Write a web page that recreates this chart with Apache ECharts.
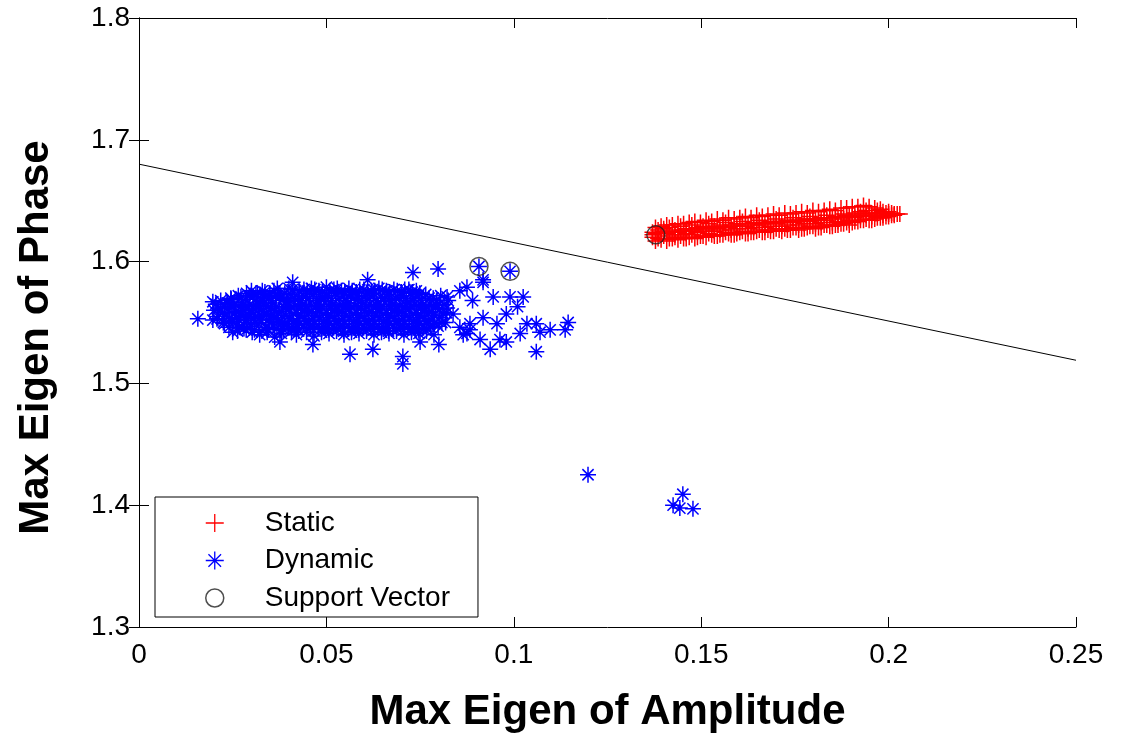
<!DOCTYPE html>
<html>
<head>
<meta charset="utf-8">
<script src="https://cdn.jsdelivr.net/npm/echarts@6/dist/echarts.min.js"></script>
<style>html,body{margin:0;padding:0;background:#fff;}#chart{width:1130px;height:738px;}</style>
</head>
<body>
<div id="chart"></div>
<script>
const xTicks = [0, 0.05, 0.1, 0.15, 0.2, 0.25];
const yTicks = [1.3, 1.4, 1.5, 1.6, 1.7, 1.8];
const seriesNames = ['Static', 'Dynamic', 'Support Vector'];

const staticPoints = [
[0.1370,1.6200],[0.1370,1.6240],[0.1370,1.6220],
[0.1385,1.6230],[0.1385,1.6190],[0.1385,1.6260],
[0.1400,1.6210],[0.1400,1.6270],[0.1400,1.6250],
[0.1415,1.6240],[0.1415,1.6190],[0.1415,1.6280],
[0.1430,1.6220],[0.1430,1.6260],[0.1430,1.6200],
[0.1445,1.6250],[0.1445,1.6210],[0.1445,1.6290],
[0.1460,1.6230],[0.1460,1.6270],[0.1460,1.6190],
[0.1475,1.6260],[0.1475,1.6220],[0.1475,1.6300],
[0.1490,1.6240],[0.1490,1.6200],[0.1490,1.6280],
[0.1505,1.6250],[0.1505,1.6290],[0.1505,1.6210],
[0.1520,1.6270],[0.1520,1.6230],[0.1520,1.6310],
[0.1535,1.6250],[0.1535,1.6210],[0.1535,1.6290],
[0.1550,1.6260],[0.1550,1.6300],[0.1550,1.6220],
[0.1565,1.6280],[0.1565,1.6240],[0.1565,1.6320],
[0.1580,1.6260],[0.1580,1.6220],[0.1580,1.6300],
[0.1595,1.6270],[0.1595,1.6310],[0.1595,1.6230],
[0.1610,1.6290],[0.1610,1.6250],[0.1610,1.6330],
[0.1625,1.6270],[0.1625,1.6230],[0.1625,1.6310],
[0.1640,1.6280],[0.1640,1.6320],[0.1640,1.6240],
[0.1655,1.6300],[0.1655,1.6260],[0.1655,1.6340],
[0.1670,1.6280],[0.1670,1.6240],[0.1670,1.6320],
[0.1685,1.6290],[0.1685,1.6330],[0.1685,1.6250],
[0.1700,1.6310],[0.1700,1.6270],[0.1700,1.6350],
[0.1715,1.6290],[0.1715,1.6250],[0.1715,1.6330],
[0.1730,1.6300],[0.1730,1.6340],[0.1730,1.6260],
[0.1745,1.6320],[0.1745,1.6280],[0.1745,1.6360],
[0.1760,1.6300],[0.1760,1.6260],[0.1760,1.6340],
[0.1775,1.6310],[0.1775,1.6350],[0.1775,1.6270],
[0.1790,1.6330],[0.1790,1.6290],[0.1790,1.6370],
[0.1805,1.6310],[0.1805,1.6270],[0.1805,1.6350],
[0.1820,1.6320],[0.1820,1.6360],[0.1820,1.6280],
[0.1835,1.6340],[0.1835,1.6300],[0.1835,1.6380],
[0.1850,1.6320],[0.1850,1.6290],[0.1850,1.6360],
[0.1865,1.6330],[0.1865,1.6370],[0.1865,1.6300],
[0.1880,1.6350],[0.1880,1.6310],[0.1880,1.6390],
[0.1895,1.6340],[0.1895,1.6300],[0.1895,1.6380],
[0.1910,1.6360],[0.1910,1.6330],[0.1910,1.6400],
[0.1925,1.6370],[0.1925,1.6340],[0.1925,1.6410],
[0.1940,1.6380],[0.1940,1.6350],[0.1940,1.6420],
[0.1955,1.6370],[0.1955,1.6400],[0.1955,1.6340],
[0.1970,1.6390],[0.1970,1.6360],[0.1970,1.6420],
[0.1985,1.6380],[0.1985,1.6410],[0.1985,1.6360],
[0.2000,1.6390],[0.2000,1.6370],[0.2000,1.6410],
[0.2015,1.6390],[0.2015,1.6380],
[0.2030,1.6390],
[0.1378,1.6170],[0.1378,1.6230],[0.1378,1.6280],
[0.1393,1.6180],[0.1393,1.6240],[0.1393,1.6290],
[0.1408,1.6170],[0.1408,1.6230],[0.1408,1.6300],
[0.1423,1.6190],[0.1423,1.6250],[0.1423,1.6300],
[0.1438,1.6180],[0.1438,1.6240],[0.1438,1.6310],
[0.1453,1.6190],[0.1453,1.6260],[0.1453,1.6310],
[0.1468,1.6200],[0.1468,1.6250],[0.1468,1.6320],
[0.1483,1.6190],[0.1483,1.6260],[0.1483,1.6330],
[0.1498,1.6210],[0.1498,1.6270],[0.1498,1.6320],
[0.1513,1.6200],[0.1513,1.6260],[0.1513,1.6340],
[0.1528,1.6220],[0.1528,1.6280],[0.1528,1.6330],
[0.1543,1.6210],[0.1543,1.6270],[0.1543,1.6350],
[0.1558,1.6220],[0.1558,1.6290],[0.1558,1.6340],
[0.1573,1.6230],[0.1573,1.6280],[0.1573,1.6360],
[0.1588,1.6220],[0.1588,1.6290],[0.1588,1.6350],
[0.1603,1.6240],[0.1603,1.6300],[0.1603,1.6360],
[0.1618,1.6230],[0.1618,1.6290],[0.1618,1.6370],
[0.1633,1.6240],[0.1633,1.6310],[0.1633,1.6360],
[0.1648,1.6250],[0.1648,1.6300],[0.1648,1.6380],
[0.1663,1.6240],[0.1663,1.6310],[0.1663,1.6370],
[0.1678,1.6260],[0.1678,1.6320],[0.1678,1.6380],
[0.1693,1.6250],[0.1693,1.6310],[0.1693,1.6390],
[0.1708,1.6260],[0.1708,1.6330],[0.1708,1.6380],
[0.1723,1.6270],[0.1723,1.6320],[0.1723,1.6400],
[0.1738,1.6260],[0.1738,1.6330],[0.1738,1.6390],
[0.1753,1.6280],[0.1753,1.6340],[0.1753,1.6400],
[0.1768,1.6270],[0.1768,1.6330],[0.1768,1.6410],
[0.1783,1.6280],[0.1783,1.6350],[0.1783,1.6400],
[0.1798,1.6290],[0.1798,1.6340],[0.1798,1.6420],
[0.1813,1.6280],[0.1813,1.6350],[0.1813,1.6410],
[0.1828,1.6300],[0.1828,1.6360],[0.1828,1.6420],
[0.1843,1.6290],[0.1843,1.6350],[0.1843,1.6430],
[0.1858,1.6300],[0.1858,1.6370],[0.1858,1.6420],
[0.1873,1.6310],[0.1873,1.6360],[0.1873,1.6440],
[0.1888,1.6320],[0.1888,1.6380],[0.1888,1.6440],
[0.1903,1.6320],[0.1903,1.6370],[0.1903,1.6450],
[0.1918,1.6330],[0.1918,1.6390],[0.1918,1.6450],
[0.1933,1.6340],[0.1933,1.6390],[0.1933,1.6460],
[0.1948,1.6340],[0.1948,1.6400],[0.1948,1.6450],
[0.1963,1.6350],[0.1963,1.6390],[0.1963,1.6440],
[0.1978,1.6360],[0.1978,1.6400],[0.1978,1.6430],
[0.1993,1.6370],[0.1993,1.6400],
[0.2008,1.6380],[0.2008,1.6400],
[0.2023,1.6390]
];

const dynamicPoints = [
[0.0157,1.5530],[0.0197,1.5520],[0.0197,1.5670],[0.0250,1.5420],
[0.0200,1.5600],[0.0205,1.5650],[0.0210,1.5550],
[0.0222,1.5580],[0.0218,1.5680],[0.0225,1.5500],[0.0228,1.5630],
[0.0238,1.5610],[0.0242,1.5530],[0.0245,1.5700],[0.0240,1.5460],[0.0236,1.5660],
[0.0258,1.5590],[0.0262,1.5480],[0.0265,1.5720],[0.0260,1.5540],[0.0256,1.5650],[0.0263,1.5430],
[0.0278,1.5600],[0.0282,1.5500],[0.0285,1.5690],[0.0280,1.5450],[0.0276,1.5640],[0.0284,1.5550],[0.0287,1.5740],
[0.0301,1.5580],[0.0298,1.5470],[0.0305,1.5710],[0.0302,1.5420],[0.0296,1.5650],[0.0307,1.5530],[0.0300,1.5760],
[0.0321,1.5610],[0.0318,1.5490],[0.0325,1.5680],[0.0322,1.5400],[0.0316,1.5730],[0.0327,1.5550],[0.0320,1.5640],
[0.0341,1.5570],[0.0338,1.5460],[0.0345,1.5700],[0.0342,1.5420],[0.0336,1.5750],[0.0347,1.5520],[0.0340,1.5630],
[0.0361,1.5600],[0.0358,1.5480],[0.0365,1.5720],[0.0362,1.5380],[0.0356,1.5660],[0.0367,1.5540],[0.0360,1.5760],
[0.0381,1.5590],[0.0378,1.5440],[0.0385,1.5690],[0.0382,1.5500],[0.0376,1.5740],[0.0387,1.5620],[0.0380,1.5410],
[0.0401,1.5610],[0.0398,1.5470],[0.0405,1.5730],[0.0402,1.5530],[0.0396,1.5670],[0.0407,1.5430],[0.0400,1.5780],
[0.0421,1.5580],[0.0418,1.5450],[0.0425,1.5700],[0.0422,1.5510],[0.0416,1.5640],[0.0427,1.5760],[0.0420,1.5400],
[0.0441,1.5600],[0.0438,1.5480],[0.0445,1.5710],[0.0442,1.5530],[0.0436,1.5650],[0.0447,1.5420],[0.0440,1.5770],
[0.0461,1.5590],[0.0458,1.5460],[0.0465,1.5730],[0.0462,1.5520],[0.0456,1.5660],[0.0467,1.5390],[0.0460,1.5780],
[0.0481,1.5610],[0.0478,1.5470],[0.0485,1.5700],[0.0482,1.5540],[0.0476,1.5640],[0.0487,1.5420],[0.0480,1.5760],
[0.0501,1.5580],[0.0498,1.5450],[0.0505,1.5720],[0.0502,1.5510],[0.0496,1.5670],[0.0507,1.5410],[0.0500,1.5790],
[0.0521,1.5600],[0.0518,1.5480],[0.0525,1.5740],[0.0522,1.5530],[0.0516,1.5650],[0.0527,1.5430],[0.0520,1.5770],
[0.0541,1.5590],[0.0538,1.5460],[0.0545,1.5710],[0.0542,1.5520],[0.0536,1.5640],[0.0547,1.5400],[0.0540,1.5760],
[0.0561,1.5610],[0.0558,1.5470],[0.0565,1.5730],[0.0562,1.5540],[0.0556,1.5660],[0.0567,1.5420],[0.0560,1.5780],
[0.0581,1.5580],[0.0578,1.5450],[0.0585,1.5700],[0.0582,1.5510],[0.0576,1.5640],[0.0587,1.5410],[0.0580,1.5750],
[0.0601,1.5600],[0.0598,1.5480],[0.0605,1.5720],[0.0602,1.5530],[0.0596,1.5660],[0.0607,1.5430],[0.0600,1.5770],
[0.0621,1.5590],[0.0618,1.5460],[0.0625,1.5740],[0.0622,1.5520],[0.0616,1.5650],[0.0627,1.5400],[0.0620,1.5760],
[0.0641,1.5610],[0.0638,1.5470],[0.0645,1.5710],[0.0642,1.5540],[0.0636,1.5640],[0.0647,1.5420],[0.0640,1.5780],
[0.0661,1.5580],[0.0658,1.5450],[0.0665,1.5730],[0.0662,1.5510],[0.0656,1.5670],[0.0667,1.5410],[0.0660,1.5760],
[0.0681,1.5600],[0.0678,1.5480],[0.0685,1.5700],[0.0682,1.5530],[0.0676,1.5650],[0.0687,1.5430],[0.0680,1.5770],
[0.0701,1.5590],[0.0698,1.5460],[0.0705,1.5720],[0.0702,1.5520],[0.0696,1.5640],[0.0707,1.5400],[0.0700,1.5750],
[0.0721,1.5610],[0.0718,1.5470],[0.0725,1.5740],[0.0722,1.5540],[0.0716,1.5660],[0.0727,1.5420],[0.0720,1.5770],
[0.0741,1.5580],[0.0738,1.5450],[0.0745,1.5710],[0.0742,1.5510],[0.0736,1.5650],[0.0747,1.5410],[0.0740,1.5760],
[0.0761,1.5600],[0.0758,1.5480],[0.0765,1.5730],[0.0762,1.5530],[0.0756,1.5640],[0.0767,1.5430],
[0.0781,1.5590],[0.0778,1.5460],[0.0785,1.5700],[0.0782,1.5520],[0.0776,1.5650],[0.0787,1.5400],
[0.0801,1.5610],[0.0798,1.5470],[0.0805,1.5720],[0.0802,1.5540],[0.0796,1.5640],
[0.0821,1.5580],[0.0818,1.5500],[0.0825,1.5680],[0.0822,1.5620],
[0.0212,1.5620],[0.0208,1.5530],
[0.0232,1.5570],[0.0228,1.5490],[0.0235,1.5660],
[0.0251,1.5630],[0.0248,1.5510],[0.0254,1.5580],[0.0246,1.5690],
[0.0271,1.5570],[0.0268,1.5460],[0.0274,1.5660],[0.0266,1.5520],[0.0272,1.5710],
[0.0291,1.5630],[0.0288,1.5520],[0.0294,1.5720],[0.0286,1.5440],[0.0292,1.5570],
[0.0311,1.5550],[0.0308,1.5440],[0.0314,1.5660],[0.0306,1.5610],[0.0312,1.5740],[0.0309,1.5500],
[0.0331,1.5590],[0.0328,1.5430],[0.0334,1.5710],[0.0326,1.5520],[0.0332,1.5660],[0.0329,1.5760],
[0.0351,1.5620],[0.0348,1.5500],[0.0354,1.5680],[0.0346,1.5440],[0.0352,1.5560],[0.0349,1.5740],
[0.0371,1.5570],[0.0368,1.5450],[0.0374,1.5700],[0.0366,1.5630],[0.0372,1.5510],[0.0369,1.5780],
[0.0391,1.5620],[0.0388,1.5490],[0.0394,1.5680],[0.0386,1.5440],[0.0392,1.5560],[0.0389,1.5740],
[0.0411,1.5570],[0.0408,1.5450],[0.0414,1.5700],[0.0406,1.5630],[0.0412,1.5510],[0.0409,1.5770],
[0.0431,1.5620],[0.0428,1.5490],[0.0434,1.5680],[0.0426,1.5430],[0.0432,1.5560],[0.0429,1.5750],
[0.0451,1.5570],[0.0448,1.5450],[0.0454,1.5700],[0.0446,1.5630],[0.0452,1.5510],[0.0449,1.5760],
[0.0471,1.5620],[0.0468,1.5490],[0.0474,1.5680],[0.0466,1.5440],[0.0472,1.5560],[0.0469,1.5770],
[0.0491,1.5570],[0.0488,1.5450],[0.0494,1.5700],[0.0486,1.5630],[0.0492,1.5510],[0.0489,1.5750],
[0.0511,1.5620],[0.0508,1.5490],[0.0514,1.5680],[0.0506,1.5440],[0.0512,1.5560],[0.0509,1.5760],
[0.0531,1.5570],[0.0528,1.5450],[0.0534,1.5700],[0.0526,1.5630],[0.0532,1.5510],[0.0529,1.5780],
[0.0551,1.5620],[0.0548,1.5490],[0.0554,1.5680],[0.0546,1.5430],[0.0552,1.5560],[0.0549,1.5750],
[0.0571,1.5570],[0.0568,1.5450],[0.0574,1.5700],[0.0566,1.5630],[0.0572,1.5510],[0.0569,1.5760],
[0.0591,1.5620],[0.0588,1.5490],[0.0594,1.5680],[0.0586,1.5440],[0.0592,1.5560],[0.0589,1.5770],
[0.0611,1.5570],[0.0608,1.5450],[0.0614,1.5700],[0.0606,1.5630],[0.0612,1.5510],[0.0609,1.5750],
[0.0631,1.5620],[0.0628,1.5490],[0.0634,1.5680],[0.0626,1.5440],[0.0632,1.5560],[0.0629,1.5760],
[0.0651,1.5570],[0.0648,1.5450],[0.0654,1.5700],[0.0646,1.5630],[0.0652,1.5510],[0.0649,1.5770],
[0.0671,1.5620],[0.0668,1.5490],[0.0674,1.5680],[0.0666,1.5430],[0.0672,1.5560],[0.0669,1.5750],
[0.0691,1.5570],[0.0688,1.5450],[0.0694,1.5700],[0.0686,1.5630],[0.0692,1.5510],[0.0689,1.5760],
[0.0711,1.5620],[0.0708,1.5490],[0.0714,1.5680],[0.0706,1.5440],[0.0712,1.5560],[0.0709,1.5770],
[0.0731,1.5570],[0.0728,1.5450],[0.0734,1.5700],[0.0726,1.5630],[0.0732,1.5510],[0.0729,1.5750],
[0.0751,1.5620],[0.0748,1.5490],[0.0754,1.5680],[0.0746,1.5440],[0.0752,1.5560],[0.0749,1.5740],
[0.0771,1.5570],[0.0768,1.5450],[0.0774,1.5700],[0.0766,1.5630],[0.0772,1.5510],
[0.0791,1.5620],[0.0788,1.5490],[0.0794,1.5680],[0.0786,1.5560],
[0.0811,1.5570],[0.0808,1.5500],[0.0814,1.5650],
[0.0731,1.5910],[0.0798,1.5940],[0.0610,1.5850],[0.0410,1.5830],
[0.0907,1.5960],[0.0990,1.5920],[0.0918,1.5850],
[0.0918,1.5830],[0.0945,1.5710],[0.0990,1.5710],[0.1025,1.5710],[0.1010,1.5630],
[0.0980,1.5570],[0.0918,1.5540],[0.0890,1.5680],[0.0955,1.5490],[0.1035,1.5490],
[0.1060,1.5490],[0.1097,1.5440],[0.1070,1.5420],[0.1145,1.5500],[0.1137,1.5440],
[0.1060,1.5260],[0.0980,1.5340],[0.0937,1.5280],[0.0910,1.5360],[0.0875,1.5410],
[0.0856,1.5760],[0.0838,1.5570],[0.0963,1.5360],[0.1017,1.5410],[0.0856,1.5460],
[0.0883,1.5490],[0.0822,1.5710],[0.0875,1.5790],[0.0883,1.5440],[0.0865,1.5400],
[0.0563,1.5240],[0.0624,1.5280],[0.0704,1.5220],[0.0704,1.5160],[0.0464,1.5320],
[0.0376,1.5340],[0.0750,1.5340],[0.0800,1.5320],
[0.1198,1.4250],[0.1451,1.4090],[0.1425,1.4000],[0.1443,1.3976],[0.1478,1.3970]
];

const supportVectors = [[0.1379,1.6220],[0.0907,1.5960],[0.0990,1.5920]];
const boundaryLine = [[0,1.680],[0.25,1.519]];

const plusPath = 'path://M0,10 L20,10 M10,0 L10,20';
const starPath = 'path://M0,10 L20,10 M10,0 L10,20 M3,3 L17,17 M17,3 L3,17';

const chart = echarts.init(document.getElementById('chart'), null, {renderer: 'canvas'});
const tickFont = {fontFamily: 'Liberation Sans', fontSize: 28, color: '#000'};
const option = {
  backgroundColor: '#fff',
  animation: false,
  grid: {left: 139, right: 54, top: 18, bottom: 105, containLabel: false},
  legend: {
    left: 155, top: 497,
    orient: 'vertical',
    padding: [11, 28, 4, 205 - 155],
    itemGap: 7.5,
    itemWidth: 18, itemHeight: 18,
    borderColor: '#000', borderWidth: 1,
    backgroundColor: '#fff',
    textStyle: {fontFamily: 'Liberation Sans', fontSize: 28, color: '#000', lineHeight: 30, padding: [0, 0, 0, 36]},
    data: [
      {name: 'Static', icon: plusPath, itemStyle: {color: 'rgba(0,0,0,0)', borderColor: '#ff0000', borderWidth: 1.3}},
      {name: 'Dynamic', icon: starPath, itemStyle: {color: 'rgba(0,0,0,0)', borderColor: '#0000ff', borderWidth: 1.3}},
      {name: 'Support Vector', icon: 'circle', itemStyle: {color: 'rgba(0,0,0,0)', borderColor: '#222', borderWidth: 1.5}}
    ]
  },
  xAxis: [{
    type: 'value', min: 0, max: 0.25, interval: 0.05,
    name: 'Max Eigen of Amplitude', nameLocation: 'middle', nameGap: 64,
    nameTextStyle: {fontFamily: 'Liberation Sans', fontWeight: 'bold', fontSize: 42, color: '#000'},
    axisLine: {show: true, lineStyle: {color: '#000', width: 1}},
    axisTick: {show: true, inside: true, length: 10, lineStyle: {color: '#000'}},
    axisLabel: Object.assign({margin: 14, formatter: v => String(+v.toFixed(2))}, tickFont),
    splitLine: {show: false}
  }, {
    type: 'value', min: 0, max: 0.25, interval: 0.05, position: 'top',
    axisLine: {show: true, lineStyle: {color: '#000', width: 1}},
    axisTick: {show: true, inside: true, length: 10, lineStyle: {color: '#000'}},
    axisLabel: {show: false}, splitLine: {show: false}
  }],
  yAxis: [{
    type: 'value', min: 1.3, max: 1.8, interval: 0.1,
    name: 'Max Eigen of Phase', nameLocation: 'middle', nameGap: 82, nameRotate: 90,
    nameTextStyle: {fontFamily: 'Liberation Sans', fontWeight: 'bold', fontSize: 42, color: '#000', padding: [0, 30, 0, 0]},
    axisLine: {show: true, lineStyle: {color: '#000', width: 1}},
    axisTick: {show: true, inside: true, length: 10, lineStyle: {color: '#000'}},
    axisLabel: Object.assign({margin: 9, formatter: v => v.toFixed(1)}, tickFont),
    splitLine: {show: false}
  }, {
    type: 'value', min: 1.3, max: 1.8, interval: 0.1, position: 'right',
    axisLine: {show: true, lineStyle: {color: '#000', width: 1}},
    axisTick: {show: true, inside: true, length: 10, lineStyle: {color: '#000'}},
    axisLabel: {show: false}, splitLine: {show: false}
  }],
  series: [
    {
      name: 'Boundary', type: 'line', data: boundaryLine, symbol: 'none',
      lineStyle: {color: '#000', width: 1}, silent: true, z: 1
    },
    {
      name: seriesNames[1], type: 'scatter', data: dynamicPoints,
      symbol: starPath, symbolSize: 16,
      itemStyle: {color: 'rgba(0,0,0,0)', borderColor: '#0000ff', borderWidth: 1.5, opacity: 1},
      z: 2
    },
    {
      name: seriesNames[0], type: 'scatter', data: staticPoints,
      symbol: plusPath, symbolSize: 16,
      itemStyle: {color: 'rgba(0,0,0,0)', borderColor: '#ff0000', borderWidth: 1.5, opacity: 1},
      z: 3
    },
    {
      name: seriesNames[2], type: 'scatter', data: supportVectors,
      symbol: 'circle', symbolSize: 18,
      itemStyle: {color: 'rgba(0,0,0,0)', borderColor: '#222', borderWidth: 1.5},
      z: 4
    }
  ]
};
chart.setOption(option);
</script>
</body>
</html>
